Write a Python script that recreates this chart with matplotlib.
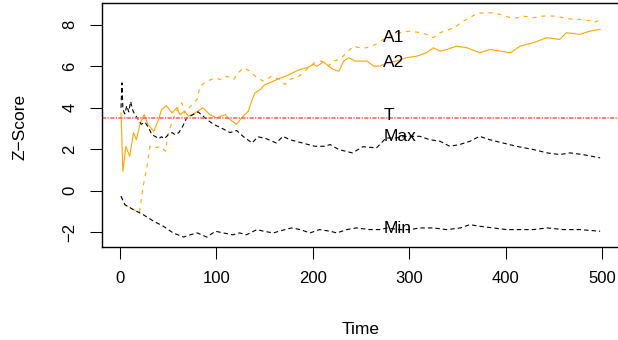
import matplotlib
matplotlib.use("Agg")
import matplotlib.pyplot as plt

plt.rcParams['font.family'] = ['Liberation Sans', 'DejaVu Sans']
plt.rcParams['lines.scale_dashes'] = False

# A2 (solid orange)
a2_t = [1, 3, 6, 10, 14, 17, 21, 25, 29, 35, 40, 43, 48, 54, 59, 62, 67, 71, 78, 86,
        93, 100, 109, 114, 121, 126, 133, 137, 140, 145, 150, 158, 166, 171, 178, 187,
        194, 201, 204, 211, 221, 227, 232, 237, 244, 256, 263, 270, 277, 287, 297, 308,
        318, 325, 332, 339, 349, 360, 373, 384, 394, 405, 415, 429, 443, 456, 463, 477,
        488, 498]
a2_z = [3.75, 0.93, 2.14, 1.66, 2.79, 2.46, 3.27, 3.67, 3.19, 2.86, 3.43, 3.91, 4.1, 3.75,
        4.0, 3.67, 3.83, 3.59, 3.75, 4.0, 3.67, 3.51, 3.67, 3.43, 3.2, 3.51, 3.83, 4.38,
        4.72, 4.86, 5.1, 5.26, 5.43, 5.5, 5.66, 5.85, 5.93, 6.09, 6.0, 6.2, 5.85, 5.76,
        6.25, 6.41, 6.25, 6.25, 6.01, 6.01, 6.17, 6.25, 6.41, 6.49, 6.65, 6.89, 6.73,
        6.81, 6.97, 6.89, 6.65, 6.81, 6.73, 6.65, 6.97, 7.14, 7.38, 7.29, 7.62, 7.54,
        7.70, 7.78]

# A1 (dashed orange)
a1_t = [1, 5, 14, 20, 24, 28, 31, 36, 42, 47, 50, 55, 61, 64, 67, 73, 80, 83, 90, 99,
        104, 111, 118, 121, 128, 135, 142, 149, 152, 157, 166, 171, 176, 185, 190, 197,
        202, 209, 216, 221, 228, 235, 242, 249, 256, 265, 273, 280, 291, 301, 311, 318,
        325, 332, 342, 349, 356, 363, 370, 380, 387, 394, 405, 412, 418, 429, 439, 450,
        460, 470, 481, 488, 491, 498]
a1_z = [-0.27, -0.68, -0.92, -1.08, 0.21, 1.17, 2.14, 2.06, 2.14, 1.9, 2.79, 3.43, 4.07,
        4.24, 3.75, 4.07, 4.4, 5.04, 5.28, 5.44, 5.36, 5.52, 5.36, 5.6, 5.93, 5.76, 5.44,
        5.28, 5.36, 5.52, 5.36, 5.12, 5.36, 5.5, 5.68, 6.01, 6.17, 6.25, 6.01, 6.25, 6.33,
        6.65, 6.97, 6.89, 6.89, 7.05, 7.29, 7.45, 7.62, 7.70, 7.62, 7.54, 7.38, 7.62,
        7.78, 7.94, 8.18, 8.34, 8.55, 8.58, 8.58, 8.50, 8.34, 8.34, 8.42, 8.34, 8.42,
        8.42, 8.34, 8.26, 8.26, 8.18, 8.1, 8.23]

# Max (dashed black)
max_t = [1, 2, 3, 5, 7, 9, 11, 13, 15, 18, 22, 26, 30, 33, 37, 40, 43, 46, 50, 54, 57,
         61, 65, 69, 73, 77, 81, 86, 91, 97, 106, 114, 121, 128, 137, 143, 152, 162, 169,
         176, 189, 202, 212, 218, 227, 241, 252, 266, 276, 286, 297, 311, 321, 332, 342,
         352, 363, 373, 383, 397, 411, 429, 443, 456, 467, 480, 498]
max_z = [4.0, 5.2, 3.9, 3.7, 4.1, 3.8, 4.3, 3.9, 3.7, 3.5, 3.2, 3.3, 3.0, 2.7, 2.6, 2.5,
         2.6, 2.5, 2.7, 2.8, 2.7, 2.8, 3.1, 3.5, 3.6, 3.7, 3.8, 3.6, 3.4, 3.2, 3.0, 2.8,
         2.9, 2.6, 2.3, 2.6, 2.5, 2.3, 2.62, 2.46, 2.3, 2.14, 2.14, 2.22, 1.98, 1.82,
         2.12, 2.06, 2.54, 2.54, 2.62, 2.62, 2.46, 2.38, 2.14, 2.22, 2.38, 2.62, 2.46,
         2.3, 2.14, 1.98, 1.82, 1.74, 1.82, 1.74, 1.58]

# Min (dashed black)
min_t = [1, 5, 14, 24, 35, 45, 55, 66, 73, 80, 90, 99, 107, 117, 124, 131, 142, 149, 159,
         171, 178, 187, 197, 207, 218, 225, 235, 245, 259, 270, 277, 290, 301, 311, 325,
         339, 353, 363, 373, 387, 401, 415, 429, 443, 460, 477, 498]
min_z = [-0.27, -0.68, -0.92, -1.16, -1.48, -1.72, -2.04, -2.24, -2.13, -2.04, -2.24,
         -1.96, -2.04, -2.13, -2.04, -2.13, -1.88, -1.96, -2.04, -1.88, -1.80, -1.88,
         -2.04, -1.88, -1.96, -2.04, -1.88, -1.80, -1.88, -1.88, -1.80, -1.88, -1.88,
         -1.80, -1.80, -1.88, -1.80, -1.64, -1.72, -1.80, -1.88, -1.88, -1.88, -1.80,
         -1.88, -1.88, -1.96]

threshold = 3.5

labels = ["A1", "A2", "T", "Max", "Min"]
label_x = 273
label_y = [7.16, 5.96, 3.43, 2.38, -2.04]

fig = plt.figure(figsize=(6.18, 3.4), dpi=100)
# plot region runs past the right edge of the picture, as in the original
ax = fig.add_axes([0.1646, 0.2735, 0.8408, 0.7176])

orange = "#FFA500"
ax.plot(a1_t, a1_z, color=orange, lw=0.8, linestyle=(0, (2.9, 3.6)))
ax.plot(a2_t, a2_z, color=orange, lw=0.8)
ax.plot(max_t, max_z, color="black", lw=0.8, linestyle=(0, (3.2, 2.2)))
ax.plot(min_t, min_z, color="black", lw=0.8, linestyle=(0, (3.2, 2.2)))
ax.axhline(threshold, color="#FF6666", lw=1.2, linestyle=(0, (3.0, 1.0, 0.9, 1.0)))

for lab, y in zip(labels, label_y):
    ax.text(label_x, y, lab, ha="left", va="baseline", fontsize=12.5)

ax.set_xlim(-19.0, 520.0)
ax.set_ylim(-2.72, 9.05)
ax.set_xticks([0, 100, 200, 300, 400, 500])
ax.set_yticks([-2, 0, 2, 4, 6, 8])
ax.tick_params(axis="both", direction="out", length=8.6, width=0.75, pad=9,
               labelsize=12)
for lbl in ax.get_yticklabels():
    lbl.set_rotation(90)
    lbl.set_va("center")

for s in ax.spines.values():
    s.set_linewidth(1.0)
    s.set_color("black")

fig.text(20 / 618, 1 - 127 / 340, "Z\u2212Score", rotation=90, ha="center",
         va="center", fontsize=12.5)
fig.text(361 / 618, 1 - 329 / 340, "Time", ha="center", va="center", fontsize=12.5)

fig.savefig("out.png", dpi=100)
